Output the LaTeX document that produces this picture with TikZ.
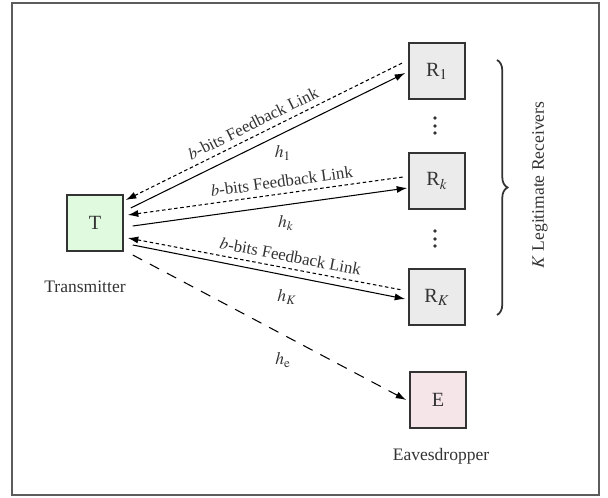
\documentclass[tikz,border=0pt]{standalone}
\usepackage{mathptmx}
\usepackage{fontspec}
\setmainfont{Liberation Serif}
\usetikzlibrary{arrows.meta,calc,decorations.pathreplacing}
\definecolor{tgreen}{HTML}{E0FAE0}
\definecolor{rgray}{HTML}{EBEBEB}
\definecolor{epink}{HTML}{F5E4E8}
\definecolor{ink}{HTML}{333333}
\begin{document}
\begin{tikzpicture}[x=0.57pt,y=-0.57pt,
  box/.style={draw=ink,line width=0.8pt,minimum size=32pt,inner sep=0pt,text=ink,font=\fontsize{11.5}{13}\selectfont},
  chan/.style={draw=black,line width=0.6pt,-{Latex[length=6pt,width=4pt]}},
  fb/.style={draw=black,line width=0.6pt,dash pattern=on 2pt off 1.5pt,{Latex[length=6pt,width=4pt]}-},
  eve/.style={draw=black,line width=0.6pt,dash pattern=on 6pt off 5pt,-{Latex[length=6pt,width=4pt]}},
  fblab/.style={font=\fontsize{9.6}{11}\selectfont,text=ink,sloped,above},
  hlab/.style={font=\normalsize,text=ink},
  captext/.style={text=ink,font=\normalsize},
  dotmark/.style={fill=ink,draw=none,circle,inner sep=0pt,minimum size=2.2pt}]
\useasboundingbox (0,0) rectangle (608,498);
\draw[draw=ink!80,line width=0.9pt] (12,3) rectangle (599,495);
\node[box,fill=tgreen] (T) at (95,223) {T};
\node[box,fill=rgray] (R1) at (437,71) {R$_1$};
\node[box,fill=rgray] (Rk) at (437,181) {R$_k$};
\node[box,fill=rgray] (RK) at (437,297) {R$_K$};
\node[box,fill=epink] (E) at (438,400) {E};
\node[captext] (Tl) at (85,287) {Transmitter};
\node[captext] (El) at (441,456) {Eavesdropper};
\foreach \y/\n in {118/a,126/b,133/c} \node[dotmark] (da\n) at (435,\y) {};
\foreach \y/\n in {231/a,239/b,246/c} \node[dotmark] (db\n) at (435,\y) {};
% channels
\draw[chan] ($(T.east)+(7,-15)$) -- ($(R1.west)+(-3,2)$);
\draw[chan] ($(T.east)+(9,3)$) -- ($(Rk.west)+(-1,7)$);
\draw[chan] ($(T.east)+(9,22)$) -- ($(RK.west)+(-3,2)$);
\draw[eve] ($(T.east)+(9,32)$) -- ($(E.west)+(-3,0)$);
% feedback
\draw[fb] ($(T.east)+(2,-23)$) -- node[fblab,pos=0.48] {$b$-bits Feedback Link} ($(R1.west)+(-6,-8)$);
\draw[fb] ($(T.east)+(4,-8)$) -- node[fblab,pos=0.565] {$b$-bits Feedback Link} ($(Rk.west)+(-5,-4)$);
\draw[fb] ($(T.east)+(4,15)$) -- node[fblab,pos=0.585] {$b$-bits Feedback Link} ($(RK.west)+(-6,-7)$);
% channel labels
\node[hlab] (h1) at (283,153) {$h_1$};
\node[hlab] (hk) at (286,223) {$h_k$};
\node[hlab] (hK) at (287,297) {$h_K$};
\node[hlab] (he) at (283,360) {$h_\mathrm{e}$};
% brace
\draw[draw=ink,line width=1pt,decorate,decoration={brace,amplitude=6pt}] (497,60) coordinate (bt) -- (497,315) coordinate (bb);
\node[captext,rotate=90] (Kl) at (540,185) {$K$ Legitimate Receivers};
\end{tikzpicture}
\end{document}
